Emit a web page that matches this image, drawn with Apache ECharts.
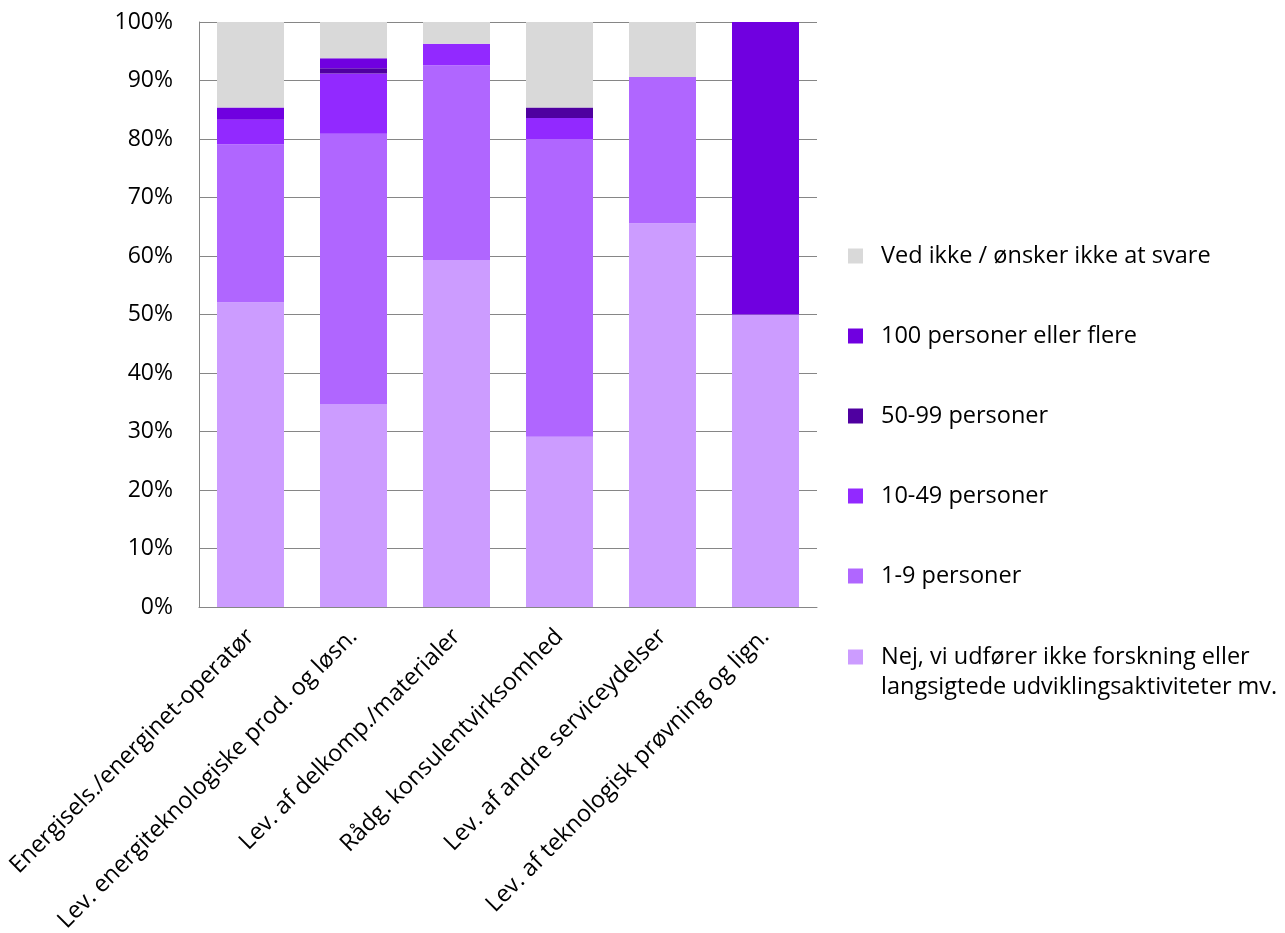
<!DOCTYPE html>
<html>
<head>
<meta charset="utf-8">
<script src="https://cdn.jsdelivr.net/npm/echarts@6/dist/echarts.min.js"></script>
<style>
html,body{margin:0;padding:0;background:#fff;}
#chart{width:1285px;height:933px;}
</style>
</head>
<body>
<div id="chart"></div>
<script>
const categories = [
  "Energisels./energinet-operatør",
  "Lev. energiteknologiske prod. og løsn.",
  "Lev. af delkomp./materialer",
  "Rådg. konsulentvirksomhed",
  "Lev. af andre serviceydelser",
  "Lev. af teknologisk prøvning og lign."
];
const yTicks = [0, 10, 20, 30, 40, 50, 60, 70, 80, 90, 100];
const nameNej = "Nej, vi udfører ikke forskning eller langsigtede udviklingsaktiviteter mv.";
const name1_9 = "1-9 personer";
const name10_49 = "10-49 personer";
const name50_99 = "50-99 personer";
const name100 = "100 personer eller flere";
const nameVed = "Ved ikke / ønsker ikke at svare";

const valNej   = [52.1, 34.7, 59.3, 29.1, 65.6, 50.0];
const val1_9   = [27.0, 46.2, 33.3, 50.9, 25.0, 0];
const val10_49 = [4.2, 10.3, 3.7, 3.6, 0, 0];
const val50_99 = [0, 0.9, 0, 1.8, 0, 0];
const val100   = [2.1, 1.7, 0, 0, 0, 50.0];
const valVed   = [14.6, 6.2, 3.7, 14.6, 9.4, 0];

const colors = {
  nej: "#CC9CFF",
  p1: "#B066FF",
  p10: "#9229FF",
  p50: "#4F00A0",
  p100: "#7000E0",
  ved: "#D9D9D9"
};

const FONT = "Open Sans";
const FS = 23.5;
const FSY = 23;

function bar(name, data, color) {
  return {
    name: name,
    type: "bar",
    stack: "total",
    barWidth: 67,
    data: data,
    itemStyle: { color: color },
    emphasis: { disabled: true }
  };
}

const chart = echarts.init(document.getElementById("chart"), null, { renderer: "canvas" });
chart.setOption({
  animation: false,
  backgroundColor: "#ffffff",
  textStyle: { fontFamily: FONT },
  grid: { left: 199, right: 468, top: 22, bottom: 326, containLabel: false, outerBoundsMode: "none" },
  legend: [
    {
      orient: "vertical",
      left: 848,
      top: 241,
      padding: 0,
      itemWidth: 15,
      itemHeight: 15,
      itemGap: 50,
      icon: "rect",
      selectedMode: false,
      data: [nameVed, name100, name50_99, name10_49, name1_9],
      textStyle: { fontFamily: FONT, fontSize: FS, color: "#000", lineHeight: 30, padding: [0, 0, 0, 13] }
    },
    {
      orient: "vertical",
      left: 848,
      top: 612,
      padding: 0,
      itemWidth: 15,
      itemHeight: 15,
      icon: "rect",
      selectedMode: false,
      data: [nameNej],
      formatter: function () {
        return " \nNej, vi udfører ikke forskning eller\nlangsigtede udviklingsaktiviteter mv.";
      },
      textStyle: { fontFamily: FONT, fontSize: FS, color: "#000", lineHeight: 30, padding: [0, 0, 0, 13] }
    }
  ],
  xAxis: {
    type: "category",
    data: categories,
    axisLine: { show: true, lineStyle: { color: "#868686", width: 1 } },
    axisTick: { show: false },
    axisLabel: {
      rotate: 45,
      interval: 0,
      margin: 26,
      color: "#000",
      fontFamily: FONT,
      fontSize: FS
    }
  },
  yAxis: {
    type: "value",
    min: yTicks[0],
    max: yTicks[yTicks.length - 1],
    interval: yTicks[1] - yTicks[0],
    axisLine: { show: true, lineStyle: { color: "#868686", width: 1 } },
    axisTick: { show: false },
    splitLine: { show: true, lineStyle: { color: "#868686", width: 1 } },
    axisLabel: {
      formatter: "{value}%",
      margin: 26,
      color: "#000",
      fontFamily: FONT,
      fontSize: FSY
    }
  },
  series: [
    bar(nameNej, valNej, colors.nej),
    bar(name1_9, val1_9, colors.p1),
    bar(name10_49, val10_49, colors.p10),
    bar(name50_99, val50_99, colors.p50),
    bar(name100, val100, colors.p100),
    bar(nameVed, valVed, colors.ved)
  ]
});
</script>
</body>
</html>
